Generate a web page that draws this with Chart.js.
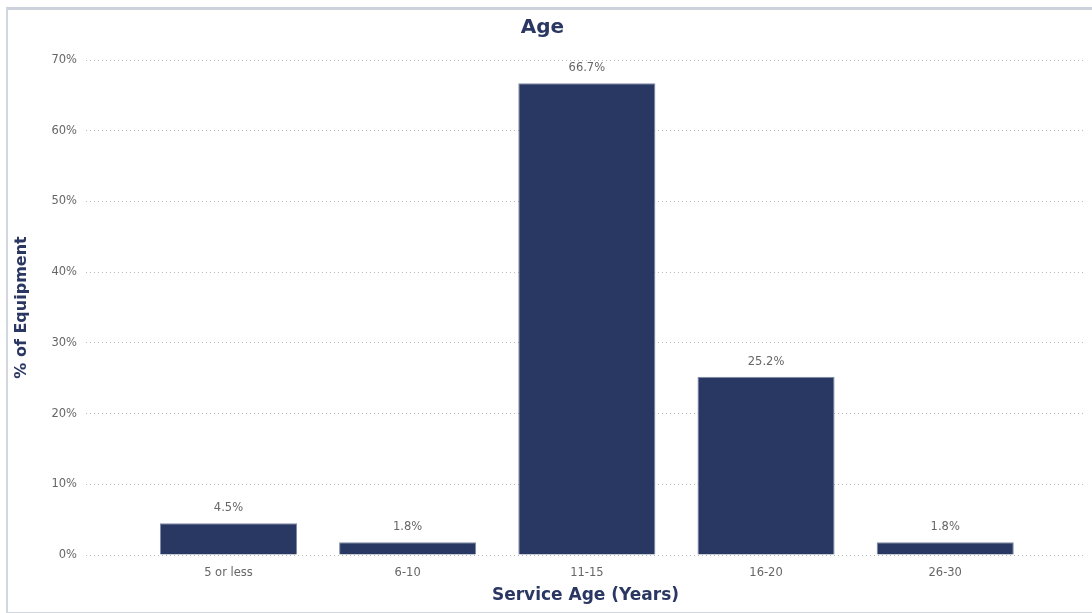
<!DOCTYPE html>
<html>
<head>
<meta charset="utf-8">
<title>Age</title>
<script src="https://cdn.jsdelivr.net/npm/chart.js@4"></script>
<style>
  html, body { margin: 0; padding: 0; background: #fff; }
  body { width: 1092px; height: 613px; position: relative; overflow: hidden; }
  /* panel frame */
  .frame {
    position: absolute; left: 6px; top: 7px; width: 1100px; height: 602px;
    border-left: 2px solid #d2d6df; border-top: 3px solid #cdd1db; border-bottom: 2px solid #d2d6df;
  }
  #ageChart { position: absolute; left: 0; top: 0; }
</style>
</head>
<body>
<div class="frame"></div>
<canvas id="ageChart" width="1092" height="613"></canvas>
<script>
// 장비 사용연수 분포
const categories = ['5 or less', '6-10', '11-15', '16-20', '26-30'];
const percentValues = [4.5, 1.8, 66.7, 25.2, 1.8];
const yTicks = [0, 10, 20, 30, 40, 50, 60, 70];

const barColor = '#283862';
const textGrey = '#666666';
const titleColor = '#2a3762';
const fontFamily = "'DejaVu Sans', sans-serif";

// 막대 위에 값 표시
const valueLabels = {
    id: 'valueLabels',
    afterDatasetsDraw(chart) {
        const ctx = chart.ctx;
        const meta = chart.getDatasetMeta(0);
        ctx.save();
        ctx.font = '11.5px ' + fontFamily;
        ctx.fillStyle = textGrey;
        ctx.textAlign = 'center';
        ctx.textBaseline = 'middle';
        meta.data.forEach((bar, i) => {
            ctx.fillText(percentValues[i].toFixed(1) + '%', bar.x, bar.y - 15);
        });
        ctx.restore();
    }
};

const ctx = document.getElementById('ageChart').getContext('2d');
new Chart(ctx, {
    type: 'bar',
    data: {
        datasets: [{
            data: percentValues.map((v, i) => ({ x: i, y: v })),
            backgroundColor: barColor,
            borderColor: '#7f89a5',
            borderWidth: 1,
            barPercentage: 0.765,
            categoryPercentage: 1
        }]
    },
    options: {
        responsive: false,
        animation: false,
        layout: { padding: { top: 6, right: 7, bottom: 0, left: 0 } },
        plugins: {
            legend: { display: false },
            tooltip: { enabled: false },
            title: {
                display: true,
                text: 'Age',
                color: titleColor,
                font: { family: fontFamily, size: 20, weight: 'bold' },
                padding: { top: 10, bottom: 20 }
            }
        },
        scales: {
            x: {
                type: 'linear',
                offset: false,
                bounds: 'data',
                min: -0.795,
                max: 4.78,
                afterBuildTicks(scale) {
                    scale.ticks = categories.map((c, i) => ({ value: i }));
                },
                afterFit(scale) {
                    scale.height = 58;
                },
                ticks: {
                    stepSize: 1,
                    padding: 3,
                    color: textGrey,
                    font: { family: fontFamily, size: 11.5 },
                    callback: (value) => categories[value] ?? ''
                },
                grid: { display: false },
                border: { display: false },
                title: {
                    display: true,
                    text: 'Service Age (Years)',
                    color: titleColor,
                    font: { family: fontFamily, size: 17, weight: 'bold' },
                    padding: { top: 4, bottom: 7 }
                }
            },
            y: {
                min: 0,
                max: 70,
                afterBuildTicks(scale) {
                    scale.ticks = yTicks.map(v => ({ value: v }));
                },
                afterFit(scale) {
                    scale.width = 86;
                },
                ticks: {
                    padding: 9,
                    color: textGrey,
                    font: { family: fontFamily, size: 11.5 },
                    callback: (value) => value + '%'
                },
                grid: {
                    color: '#b9b9b9',
                    lineWidth: 1,
                    drawTicks: false
                },
                border: { display: false, dash: [1, 3] },
                title: {
                    display: true,
                    text: '% of Equipment',
                    color: titleColor,
                    font: { family: fontFamily, size: 16, weight: 'bold' },
                    padding: { top: 12, bottom: 0 }
                }
            }
        }
    },
    plugins: [valueLabels]
});
</script>
</body>
</html>
